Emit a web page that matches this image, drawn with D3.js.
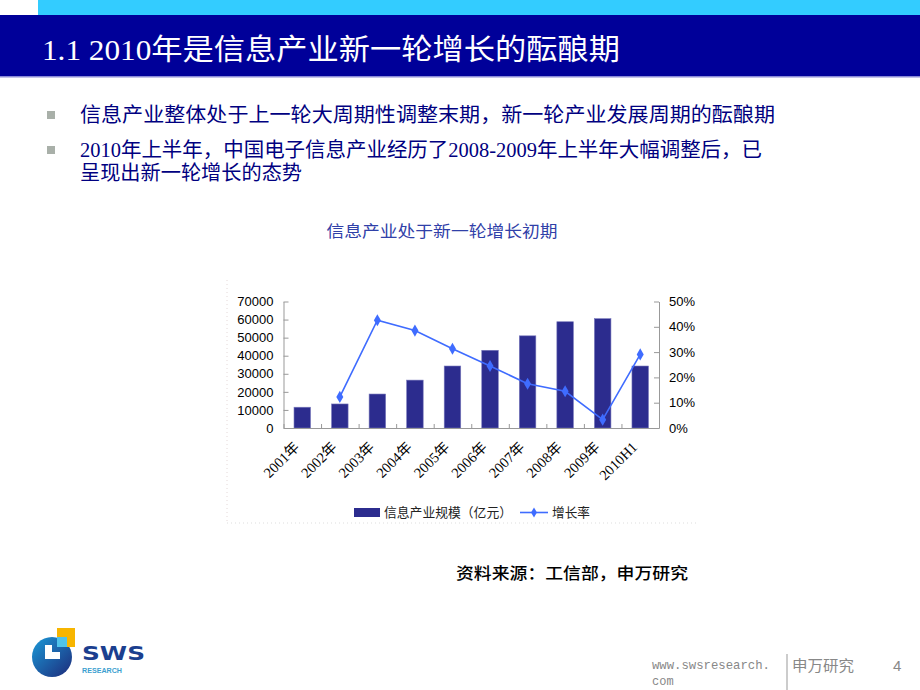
<!DOCTYPE html>
<html><head><meta charset="utf-8">
<script src="https://cdn.jsdelivr.net/npm/d3@7/dist/d3.min.js"></script>
<style>
html,body{margin:0;padding:0;background:#fff;}
svg{display:block;}
</style></head>
<body>
<svg id="c" width="920" height="690"></svg>
<script>
const categories = ["2001年","2002年","2003年","2004年","2005年","2006年","2007年","2008年","2009年","2010H1"];
const industryScale = [11500, 13300, 18800, 26500, 34300, 43000, 51000, 58800, 60500, 34300];
const growthRate = [null, 12.3, 42.6, 38.5, 31.3, 24.5, 17.5, 14.5, 3.3, 29.1];
const leftTicks = [0,10000,20000,30000,40000,50000,60000,70000];
const rightTicks = [0,10,20,30,40,50];
const seriesNames = ["信息产业规模（亿元）","增长率"];

const svg = d3.select("#c");
const CJK = "'Noto Sans CJK SC', sans-serif";
const SERIF_CJK = "'Liberation Serif','Noto Sans CJK SC', serif";
const SANS = "'Liberation Sans', Arial, 'Noto Sans CJK SC', sans-serif";

// Header
svg.append("rect").attr("x",38).attr("y",0).attr("width",882).attr("height",15).attr("fill","#33ccff");
svg.append("rect").attr("x",0).attr("y",15).attr("width",920).attr("height",61).attr("fill","#000099");
svg.append("rect").attr("x",0).attr("y",76).attr("width",920).attr("height",1.5).attr("fill","#8a8ad8");
svg.append("text").attr("x",42).attr("y",60).attr("fill","#fff")
  .attr("font-family",SERIF_CJK).attr("font-size",29)
  .attr("textLength",578).attr("lengthAdjust","spacingAndGlyphs")
  .text("1.1 2010年是信息产业新一轮增长的酝酿期");

// Bullets
const bullets = [
  {y:115, lines:[{t:"信息产业整体处于上一轮大周期性调整末期，新一轮产业发展周期的酝酿期", w:695}]},
  {y:150, lines:[{t:"2010年上半年，中国电子信息产业经历了2008-2009年上半年大幅调整后，已", w:682},{t:"呈现出新一轮增长的态势", w:222}]}
];
bullets.forEach(b=>{
  svg.append("rect").attr("x",47).attr("y",b.y-4).attr("width",8).attr("height",8).attr("fill","#a9b0a9");
  b.lines.forEach((l,i)=>{
    svg.append("text").attr("x",80).attr("y",b.y+7+i*23).attr("fill","#000080")
      .attr("font-family",SERIF_CJK).attr("font-size",20)
      .attr("textLength",l.w).attr("lengthAdjust","spacingAndGlyphs").text(l.t);
  });
});

// Chart frame (faint dotted)
svg.append("line").attr("x1",227).attr("x2",227).attr("y1",280).attr("y2",523)
  .attr("stroke","#e4d8d8").attr("stroke-dasharray","1,3");
svg.append("line").attr("x1",227).attr("x2",697).attr("y1",523).attr("y2",523)
  .attr("stroke","#dddddd").attr("stroke-dasharray","1,3");

// Chart title
svg.append("text").attr("x",442).attr("y",237).attr("text-anchor","middle")
  .attr("fill","#3040a8").attr("font-family",CJK).attr("font-size",16)
  .attr("textLength",231).attr("lengthAdjust","spacingAndGlyphs")
  .text("信息产业处于新一轮增长初期");

// Scales
const x0 = 283.5, x1 = 659, yTop = 301.5, yBot = 428;
const x = d3.scaleBand().domain(categories).range([x0,x1]).padding(0);
const yL = d3.scaleLinear().domain([0,70000]).range([yBot,yTop]);
const yR = d3.scaleLinear().domain([0,50]).range([yBot,yTop]);
const xi = d3.scaleLinear().domain([0,categories.length]).range([x0,x1]);

const g = svg.append("g");

// Bars
const bw = x.bandwidth()*0.44;
g.selectAll("rect.bar").data(categories).enter().append("rect").attr("class","bar")
  .attr("x",d=>x(d)+x.bandwidth()/2-bw/2)
  .attr("y",(d,i)=>yL(industryScale[i]))
  .attr("width",bw)
  .attr("height",(d,i)=>yBot-yL(industryScale[i]))
  .attr("fill","#2c2c8e").attr("stroke","#7777bb").attr("stroke-width",0.6);

// Axes
const axisColor = "#999";
const la = g.append("g").attr("transform",`translate(${x0},0)`)
  .call(d3.axisLeft(yL).tickValues(leftTicks).tickSize(-5).tickSizeOuter(0).tickPadding(10).tickFormat(d3.format("d")));
const ra = g.append("g").attr("transform",`translate(${x1},0)`)
  .call(d3.axisRight(yR).tickValues(rightTicks).tickSize(-5).tickSizeOuter(0).tickPadding(10).tickFormat(d=>d+"%"));
const ba = g.append("g").attr("transform",`translate(0,${yBot})`)
  .call(d3.axisBottom(xi).tickValues(d3.range(0,categories.length+1)).tickSize(-4).tickSizeOuter(0).tickFormat(""));
[la,ra,ba].forEach(a=>{
  a.selectAll("path,line").attr("stroke",axisColor);
  a.selectAll("text").attr("font-family",SANS).attr("font-size",13).attr("fill","#000");
});

// X labels rotated
g.selectAll("text.xl").data(categories).enter().append("text").attr("class","xl")
  .attr("transform",d=>`translate(${x(d)+x.bandwidth()/2-2},${yBot+20}) rotate(-45)`)
  .attr("text-anchor","end").attr("font-family",SERIF_CJK).attr("font-size",14.5).attr("fill","#000")
  .text(d=>d);

// Line
const pts = categories.map((c,i)=>({c,v:growthRate[i]})).filter(p=>p.v!=null);
const lineGen = d3.line().x(p=>x(p.c)+x.bandwidth()/2).y(p=>yR(p.v));
const lineColor = "#3f6cff";
g.append("path").datum(pts).attr("d",lineGen).attr("fill","none").attr("stroke",lineColor).attr("stroke-width",1.6);
const diamond = d3.symbol().type(d3.symbolDiamond).size(42);
g.selectAll("path.pt").data(pts).enter().append("path").attr("class","pt")
  .attr("transform",p=>`translate(${x(p.c)+x.bandwidth()/2},${yR(p.v)})`)
  .attr("d",diamond).attr("fill",lineColor);

// Legend
svg.append("rect").attr("x",354).attr("y",508).attr("width",26).attr("height",9).attr("fill","#2c2c8e");
svg.append("text").attr("x",384).attr("y",517).attr("font-family",CJK).attr("font-size",13).attr("fill","#222")
  .attr("textLength",128).attr("lengthAdjust","spacingAndGlyphs").text(seriesNames[0]);
svg.append("line").attr("x1",520).attr("x2",548).attr("y1",512.5).attr("y2",512.5).attr("stroke",lineColor).attr("stroke-width",1.6);
svg.append("path").attr("transform","translate(534,512.5)").attr("d",d3.symbol().type(d3.symbolDiamond).size(30)).attr("fill",lineColor);
svg.append("text").attr("x",552).attr("y",517).attr("font-family",CJK).attr("font-size",13).attr("fill","#222")
  .attr("textLength",38).attr("lengthAdjust","spacingAndGlyphs").text(seriesNames[1]);

// Source
svg.append("text").attr("x",456).attr("y",579).attr("font-family",CJK).attr("font-size",16).attr("font-weight","500").attr("fill","#000")
  .attr("textLength",232).attr("lengthAdjust","spacingAndGlyphs").text("资料来源：工信部，申万研究");

// Footer
const FOOT = "'Liberation Mono','DejaVu Sans Mono','Noto Sans CJK SC', monospace";
svg.append("text").attr("x",652).attr("y",669).attr("font-family",FOOT).attr("font-size",13).attr("fill","#888")
  .attr("textLength",118).attr("lengthAdjust","spacingAndGlyphs").text("www.swsresearch.");
svg.append("text").attr("x",652).attr("y",685).attr("font-family",FOOT).attr("font-size",12).attr("fill","#888").text("com");
svg.append("line").attr("x1",787).attr("x2",787).attr("y1",654).attr("y2",690).attr("stroke","#999").attr("stroke-width",1);
svg.append("text").attr("x",792).attr("y",671).attr("font-family",CJK).attr("font-size",15).attr("fill","#888")
  .attr("textLength",62).attr("lengthAdjust","spacingAndGlyphs").text("申万研究");
svg.append("text").attr("x",893).attr("y",671).attr("font-family",SANS).attr("font-size",15).attr("fill","#888").text("4");

// Logo
const logo = svg.append("g");
const grad = svg.append("defs").append("linearGradient").attr("id","lg").attr("x1","0").attr("y1","0").attr("x2","1").attr("y2","1");
grad.append("stop").attr("offset","0").attr("stop-color","#1b9ad8");
grad.append("stop").attr("offset","1").attr("stop-color","#1d2a7a");
logo.append("circle").attr("cx",52).attr("cy",657).attr("r",20).attr("fill","url(#lg)");
logo.append("path").attr("d","M45,645 L52,645 L52,652 L60,652 L60,659 L45,659 Z").attr("fill","#fff");
logo.append("rect").attr("x",57).attr("y",628).attr("width",18).attr("height",19).attr("fill","#f7b500");
logo.append("rect").attr("x",57).attr("y",637).attr("width",10).attr("height",10).attr("fill","#4fc3ea");
logo.append("text").attr("x",82).attr("y",660).attr("font-family","'DejaVu Sans', sans-serif").attr("font-weight","bold")
  .attr("font-size",20).attr("fill","#1b3f8f").attr("textLength",63).attr("lengthAdjust","spacingAndGlyphs").text("SWS");
logo.append("text").attr("x",82).attr("y",673).attr("font-family","'Liberation Sans', sans-serif").attr("font-weight","bold")
  .attr("font-size",8).attr("fill","#3c9fd0").attr("textLength",40).attr("lengthAdjust","spacingAndGlyphs").text("RESEARCH");
</script>
</body></html>
